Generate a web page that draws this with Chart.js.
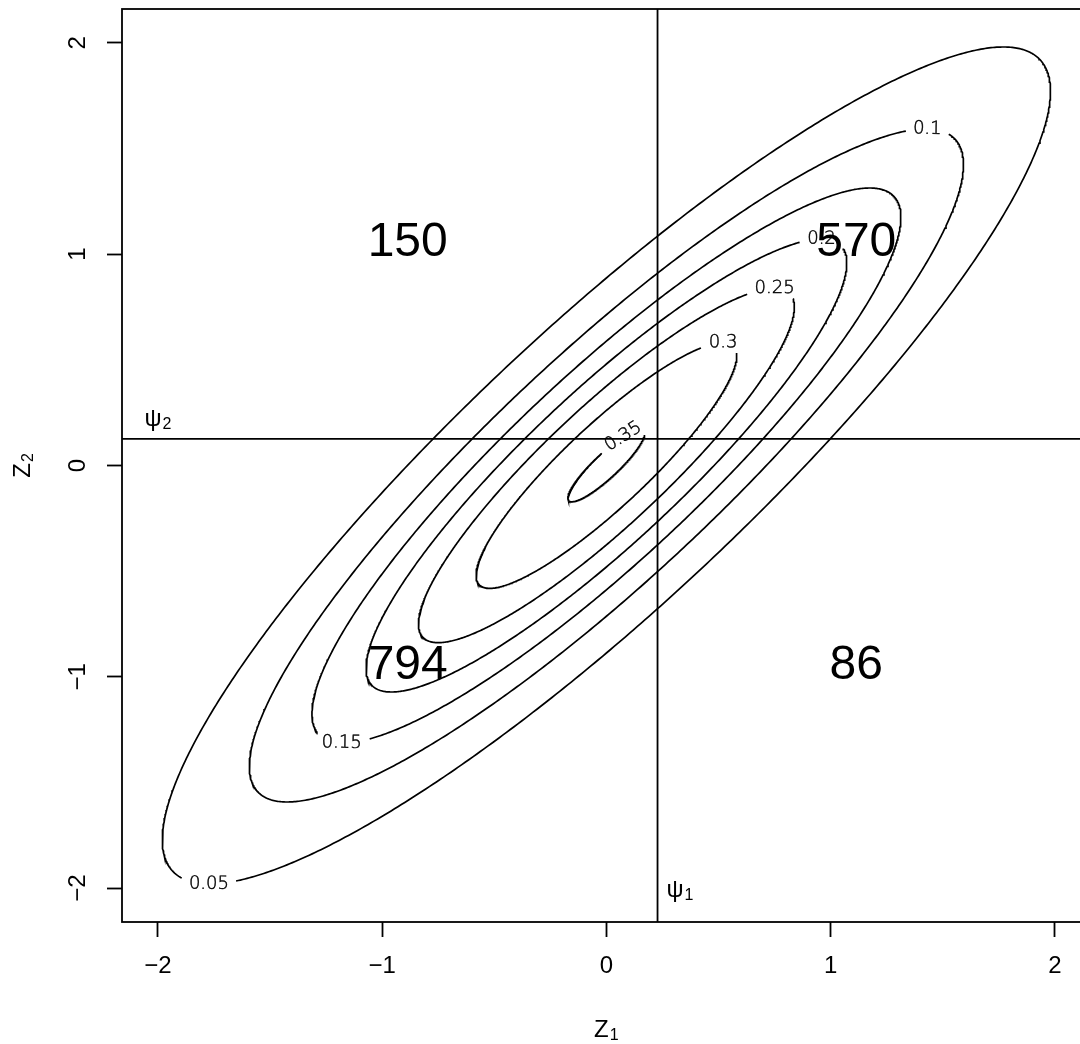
<!DOCTYPE html>
<html>
<head>
<meta charset="utf-8">
<script src="https://cdn.jsdelivr.net/npm/chart.js@4.4.0/dist/chart.umd.min.js"></script>
<style>
  html, body { margin: 0; padding: 0; background: #fff; overflow: hidden; }
  #wrap { width: 1080px; height: 1044px; overflow: hidden; }
  canvas { display: block; }
</style>
</head>
<body>
<div id="wrap"><canvas id="myChart" width="1100" height="1044"></canvas></div>
<script>
// contour levels of the bivariate normal density, and its correlation
const levels = [0.05, 0.1, 0.15, 0.2, 0.25, 0.3, 0.35];
const rho = 0.894;
// roughly where each contour label sits
const labelX = [-1.77, 1.43, -1.18, 0.96, 0.75, 0.52, 0.08];
const labelY = [-1.99, 1.60, -1.32, 1.08, 0.85, 0.59, 0.13];
// thresholds psi1, psi2 and the 2x2 counts
const psi = [0.228, 0.126];
const counts = [150, 570, 794, 86]; // upper left, upper right, lower left, lower right
const tickVals = [-2, -1, 0, 1, 2];
const lim = [-2.16, 2.16];

const labelFont = '200 18px "DejaVu Sans", sans-serif';
const axisFont = { family: '"Liberation Sans", Arial, sans-serif', size: 24 };
const sans = '"Liberation Sans", Arial, sans-serif';

function ellipse(level) {
  const s = Math.sqrt(1 - rho * rho);
  const r = Math.sqrt(-2 * Math.log(level * 2 * Math.PI * s));
  const pts = [];
  for (let i = 0; i <= 720; i++) {
    const t = i / 720 * 2 * Math.PI;
    pts.push({ x: r * Math.cos(t), y: r * (rho * Math.cos(t) + s * Math.sin(t)) });
  }
  return pts;
}

const lineStyle = { showLine: true, borderColor: '#000', pointRadius: 0, spanGaps: false, tension: 0 };
const datasets = levels.map(lev => ({ ...lineStyle, label: String(lev), data: ellipse(lev), borderWidth: 1.7 }));
datasets.push({ ...lineStyle, borderWidth: 1.8, data: [{ x: psi[0], y: lim[0] }, { x: psi[0], y: lim[1] }] });
datasets.push({ ...lineStyle, borderWidth: 1.8, data: [{ x: lim[0], y: psi[1] }, { x: lim[1], y: psi[1] }] });

let spots = []; // label anchor + angle, filled once scales exist

// text with a plotmath-like subscript, centred on (x, y)
function subText(ctx, base, sub, x, y, rot) {
  ctx.save();
  ctx.translate(x, y);
  ctx.rotate(rot || 0);
  ctx.textBaseline = 'alphabetic';
  ctx.textAlign = 'left';
  ctx.font = '24px ' + sans;
  const w1 = ctx.measureText(base).width;
  ctx.font = '16px ' + sans;
  const w2 = ctx.measureText(sub).width;
  const x0 = -(w1 + w2 + 1) / 2;
  ctx.font = '24px ' + sans;
  ctx.fillText(base, x0, 8.5);
  ctx.font = '16px ' + sans;
  ctx.fillText(sub, x0 + w1 + 1, 11.5);
  ctx.restore();
}

const rtext = {
  id: 'rtext',
  afterDatasetsDraw(chart) {
    const { ctx, chartArea: a, scales: { x, y } } = chart;
    ctx.save();
    ctx.strokeStyle = '#000';
    ctx.lineWidth = 1.8;
    ctx.strokeRect(a.left, a.top, a.right - a.left, a.bottom - a.top);
    ctx.fillStyle = '#000';
    ctx.textAlign = 'center';
    ctx.textBaseline = 'middle';

    // contour labels, thin like R's Hershey font
    ctx.font = labelFont;
    ctx.lineWidth = 0.45;
    spots.forEach((s, i) => {
      ctx.save();
      ctx.translate(x.getPixelForValue(s.x), y.getPixelForValue(s.y));
      ctx.rotate(s.ang);
      ctx.fillText(String(levels[i]), 0, 0);
      ctx.strokeText(String(levels[i]), 0, 0);
      ctx.restore();
    });

    subText(ctx, '\u03c8', '1', x.getPixelForValue(psi[0] + 0.1), y.getPixelForValue(-2));
    subText(ctx, '\u03c8', '2', x.getPixelForValue(-2), y.getPixelForValue(psi[1] + 0.1));

    // axis titles
    subText(ctx, 'Z', '1', (a.left + a.right) / 2, x.bottom - 16);
    subText(ctx, 'Z', '2', y.left + 21, (a.top + a.bottom) / 2, -Math.PI / 2);

    ctx.font = '48px ' + sans;
    ctx.textAlign = 'center';
    ctx.textBaseline = 'middle';
    const cx = [(tickVals[0] + psi[0]) / 2, (tickVals[4] + psi[0]) / 2];
    const cy = [(tickVals[4] + psi[1]) / 2, (tickVals[0] + psi[1]) / 2];
    counts.forEach((n, i) => {
      ctx.fillText(String(n), x.getPixelForValue(cx[i % 2]), y.getPixelForValue(cy[Math.floor(i / 2)]) + 2);
    });
    ctx.restore();
  }
};

const ctx = document.querySelector('#myChart').getContext('2d');
const fmt = v => String(v).replace('-', '\u2212');

const chart = new Chart(ctx, {
  type: 'scatter',
  data: { datasets },
  options: {
    responsive: false,
    devicePixelRatio: 1,
    animation: false,
    events: [],
    layout: { padding: { left: 0, top: 9, right: 9.2, bottom: 0 } },
    plugins: { legend: { display: false }, tooltip: { enabled: false } },
    scales: {
      x: {
        type: 'linear', min: lim[0], max: lim[1],
        afterBuildTicks: s => { s.ticks = tickVals.map(v => ({ value: v })); },
        afterFit: s => { s.height = 122; s.paddingLeft = 0; s.paddingRight = 0; },
        grid: { drawOnChartArea: false, tickLength: 15, tickColor: '#000', tickWidth: 1.8 },
        border: { display: false },
        ticks: { color: '#000', font: axisFont, padding: 15, maxRotation: 0, autoSkip: false, callback: fmt }
      },
      y: {
        type: 'linear', min: lim[0], max: lim[1],
        afterBuildTicks: s => { s.ticks = tickVals.map(v => ({ value: v })); },
        afterFit: s => { s.width = 122; s.paddingTop = 0; s.paddingBottom = 0; },
        grid: { drawOnChartArea: false, tickLength: 15, tickColor: '#000', tickWidth: 1.8 },
        border: { display: false },
        ticks: { color: '#000', font: axisFont, padding: 15, minRotation: 90, maxRotation: 90, crossAlign: 'center', autoSkip: false, callback: fmt }
      }
    }
  },
  plugins: [rtext]
});

// cut a gap in each contour where its label goes, as R's contour() does
const xs = chart.scales.x, ys = chart.scales.y;
ctx.save();
ctx.font = labelFont;
spots = levels.map((lev, i) => {
  const pts = ellipse(lev);
  const n = pts.length - 1;
  const px = p => xs.getPixelForValue(p.x), py = p => ys.getPixelForValue(p.y);
  const lx = xs.getPixelForValue(labelX[i]), ly = ys.getPixelForValue(labelY[i]);
  let k = 0, best = Infinity;
  pts.forEach((p, j) => {
    const d = Math.hypot(px(p) - lx, py(p) - ly);
    if (d < best) { best = d; k = j; }
  });
  const p1 = pts[(k - 4 + n) % n], p2 = pts[(k + 4) % n];
  let ang = Math.atan2(py(p2) - py(p1), px(p2) - px(p1));
  if (ang > Math.PI / 2) ang -= Math.PI;
  if (ang < -Math.PI / 2) ang += Math.PI;
  const halfW = ctx.measureText(String(lev)).width / 2 + 7, halfH = 10;
  const c = pts[k], cx = px(c), cy = py(c);
  const ring = pts.slice(k, n).concat(pts.slice(0, k + 1));
  chart.data.datasets[i].data = ring.map(p => {
    const dx = px(p) - cx, dy = py(p) - cy;
    const u = dx * Math.cos(ang) + dy * Math.sin(ang);
    const v = -dx * Math.sin(ang) + dy * Math.cos(ang);
    return (Math.abs(u) < halfW && Math.abs(v) < halfH) ? { x: p.x, y: null } : p;
  });
  return { x: c.x, y: c.y, ang };
});
ctx.restore();
chart.update('none');
</script>
</body>
</html>
